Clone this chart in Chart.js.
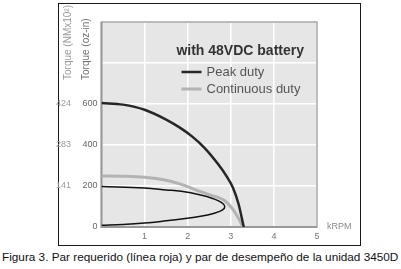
<!DOCTYPE html>
<html>
<head>
<meta charset="utf-8">
<script src="https://cdn.jsdelivr.net/npm/chart.js@4/dist/chart.umd.min.js"></script>
<style>
  body { margin: 0; width: 401px; height: 269px; background: #fff; position: relative; overflow: hidden; font-family: "Liberation Sans", Arial, sans-serif; }
  #marco { position: absolute; left: 58px; top: 3px; width: 301px; height: 241px; border: 1.5px solid #1a1a1a; }
  #grafico { position: absolute; left: 0; top: 0; }
  #pie { position: absolute; left: 2px; top: 250px; font-size: 11.5px; white-space: nowrap; color: #111; }
</style>
</head>
<body>
<div id="marco"></div>
<canvas id="grafico" width="401" height="250"></canvas>
<div id="pie">Figura 3. Par requerido (línea roja) y par de desempeño de la unidad 3450D</div>
<script>
// valores (kRPM, oz-in)
const rpmPico = [0, 0.5, 1.0, 1.5, 1.8, 2.1, 2.4, 2.7, 2.9, 3.05, 3.18, 3.3];
const torquePico = [605, 597, 572, 524, 487, 442, 384, 308, 248, 192, 112, 0];

const rpmContinuo = [0, 0.5, 1.0, 1.5, 1.85, 2.2, 2.5, 2.86, 3.05, 3.18, 3.28];
const torqueContinuo = [249, 248, 243, 228, 208, 180, 158, 128, 86, 42, 0];

// curva de par requerido (lazo)
const rpmRequerido = [0, 1.0, 1.5, 1.85, 2.3, 2.58, 2.78, 2.86, 2.8, 2.6, 2.3, 1.9, 1.5, 1.0, 0.5, 0];
const torqueRequerido = [198, 190, 181, 174, 156, 139, 120, 100, 82, 66, 52, 40, 30, 19, 12, 8];

const ticksOz = [0, 200, 400, 600];
const ticksNm = ['', '141', '283', '424'];
const ticksRpm = [1, 2, 3, 4, 5];

const tituloLeyenda = 'with 48VDC battery';
const nombrePico = 'Peak duty';
const nombreContinuo = 'Continuous duty';

function puntos(xs, ys) {
  return xs.map((x, i) => ({ x: x, y: ys[i] }));
}

const extras = {
  id: 'extras',
  beforeDraw(chart) {
    const { ctx, chartArea: a } = chart;
    ctx.save();
    ctx.fillStyle = '#e6e6e6';
    ctx.fillRect(a.left, a.top, a.right - a.left, a.bottom - a.top);
    ctx.restore();
  },
  beforeDatasetsDraw(chart) {
    const { ctx, chartArea: a } = chart;
    ctx.save();
    ctx.strokeStyle = '#a8a8a8';
    ctx.lineWidth = 1.5;
    ctx.strokeRect(a.left, a.top, a.right - a.left, a.bottom - a.top);
    ctx.strokeStyle = '#999';
    ctx.lineWidth = 2;
    ctx.beginPath();
    ctx.moveTo(a.left, a.top);
    ctx.lineTo(a.left, a.bottom);
    ctx.lineTo(a.right, a.bottom);
    ctx.stroke();
    ctx.restore();
  },
  afterDraw(chart) {
    const { ctx, chartArea: a } = chart;
    const ds = chart.data.datasets;
    ctx.save();

    // titulos de los ejes verticales
    ctx.font = '10px "Liberation Sans", Arial, sans-serif';
    ctx.textAlign = 'left';
    ctx.textBaseline = 'middle';
    ctx.fillStyle = '#9a9a9a';
    ctx.save();
    ctx.translate(a.left - 33, a.top + 58);
    ctx.rotate(-Math.PI / 2);
    ctx.fillText('Torque (NMx10²)', 0, 0);
    ctx.restore();
    ctx.fillStyle = '#707070';
    ctx.save();
    ctx.translate(a.left - 15, a.top + 58);
    ctx.rotate(-Math.PI / 2);
    ctx.fillText('Torque (oz-in)', 0, 0);
    ctx.restore();

    // leyenda
    ctx.font = 'bold 14px "Liberation Sans", Arial, sans-serif';
    ctx.fillStyle = '#333';
    ctx.textAlign = 'right';
    ctx.textBaseline = 'alphabetic';
    ctx.fillText(tituloLeyenda, a.right - 13, a.top + 33);

    ctx.font = '13px "Liberation Sans", Arial, sans-serif';
    ctx.textAlign = 'left';
    [0, 1].forEach((i, n) => {
      const y = a.top + 50 + n * 17;
      ctx.strokeStyle = ds[i].borderColor;
      ctx.lineWidth = ds[i].borderWidth;
      ctx.beginPath();
      ctx.moveTo(a.left + 80, y);
      ctx.lineTo(a.left + 100, y);
      ctx.stroke();
      ctx.fillStyle = '#555';
      ctx.fillText(ds[i].label, a.left + 105, y + 4);
    });

    // unidad del eje x
    ctx.font = '9px "Liberation Sans", Arial, sans-serif';
    ctx.fillStyle = '#888';
    ctx.textBaseline = 'middle';
    ctx.fillText('kRPM', a.right + 10, a.bottom);
    ctx.restore();
  }
};

const ctx = document.getElementById('grafico').getContext('2d');
new Chart(ctx, {
  type: 'scatter',
  data: {
    datasets: [
      {
        label: nombrePico,
        data: puntos(rpmPico, torquePico),
        showLine: true,
        borderColor: '#262626',
        borderWidth: 2.5,
        pointRadius: 0,
        cubicInterpolationMode: 'monotone'
      },
      {
        label: nombreContinuo,
        data: puntos(rpmContinuo, torqueContinuo),
        showLine: true,
        borderColor: '#b3b3b3',
        borderWidth: 3,
        pointRadius: 0,
        cubicInterpolationMode: 'monotone'
      },
      {
        label: 'Requerido',
        data: puntos(rpmRequerido, torqueRequerido),
        showLine: true,
        borderColor: '#111',
        borderWidth: 1.5,
        pointRadius: 0,
        tension: 0.4
      }
    ]
  },
  options: {
    responsive: false,
    animation: false,
    layout: { padding: { left: 52, right: 84, top: 22, bottom: 3 } },
    plugins: {
      legend: { display: false },
      tooltip: { enabled: false }
    },
    scales: {
      x: {
        type: 'linear',
        min: 0,
        max: 5,
        afterBuildTicks: (s) => { s.ticks = [0].concat(ticksRpm).map(v => ({ value: v })); },
        afterFit: (s) => { s.height = 20; },
        ticks: {
          padding: 4,
          color: '#777',
          font: { size: 9, family: '"Liberation Sans", Arial, sans-serif' },
          callback: (v) => ticksRpm.includes(v) ? String(v) : ''
        },
        grid: { color: '#fff', lineWidth: 1.5, drawTicks: false },
        border: { display: false }
      },
      y: {
        min: 0,
        max: 1000,
        weight: 0,
        afterBuildTicks: (s) => { s.ticks = [0, 200, 400, 600, 800, 1000].map(v => ({ value: v })); },
        afterFit: (s) => { s.width = 27.5; },
        ticks: {
          padding: 4,
          color: '#666',
          font: { size: 9, family: '"Liberation Sans", Arial, sans-serif' },
          callback: (v) => ticksOz.includes(v) ? String(v) : ''
        },
        grid: { color: '#fff', lineWidth: 1.5, drawTicks: false },
        border: { display: false }
      },
      y2: {
        position: 'left',
        min: 0,
        max: 1000,
        weight: 1,
        afterBuildTicks: (s) => { s.ticks = ticksOz.map(v => ({ value: v })); },
        afterFit: (s) => { s.width = 22; },
        ticks: {
          padding: 3,
          color: '#9a9a9a',
          font: { size: 9, family: '"Liberation Sans", Arial, sans-serif' },
          callback: (v) => ticksNm[ticksOz.indexOf(v)]
        },
        grid: { display: false, drawTicks: false },
        border: { display: false }
      }
    }
  },
  plugins: [extras]
});

// ajustar el pie al ancho del original
const pie = document.getElementById('pie');
const ancho = pie.getBoundingClientRect().width;
pie.style.fontSize = (11.5 * 397 / ancho).toFixed(2) + 'px';
</script>
</body>
</html>
